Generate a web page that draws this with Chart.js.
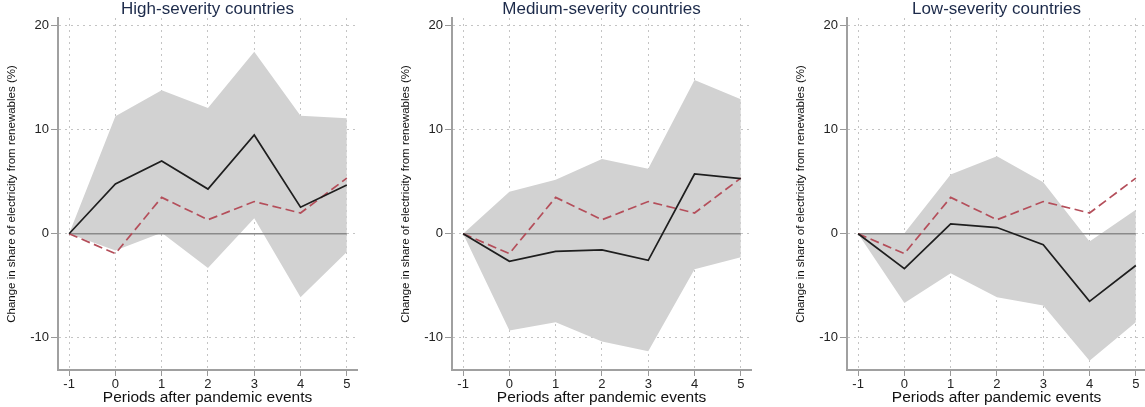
<!DOCTYPE html>
<html lang="en">
<head>
    <meta charset="UTF-8">
    <title>Renewables share after pandemic events</title>
    <script src="https://cdn.jsdelivr.net/npm/chart.js"></script>
    <style>
        html, body { margin: 0; padding: 0; background: #fff; overflow: hidden; }
        body { width: 1145px; height: 407px; position: relative; }
        .panel { position: absolute; top: 0; width: 360px; height: 407px; }
    </style>
</head>
<body>
    <div class="panel" style="left:0px"><canvas id="highChart"></canvas></div>
    <div class="panel" style="left:394px"><canvas id="mediumChart"></canvas></div>
    <div class="panel" style="left:789px"><canvas id="lowChart"></canvas></div>

    <script>
        // values
        const periods = [-1, 0, 1, 2, 3, 4, 5];
        const yTicks = [-10, 0, 10, 20];
        const zeroLine = [0, 0, 0, 0, 0, 0, 0];
        const reference = [0, -1.9, 3.5, 1.35, 3.1, 2.0, 5.35];

        const highEstimate = [0, 4.8, 7.0, 4.3, 9.5, 2.55, 4.7];
        const highUpper = [0, 11.3, 13.8, 12.1, 17.5, 11.35, 11.1];
        const highLower = [0, -1.6, 0.1, -3.3, 1.5, -6.1, -1.75];

        const mediumEstimate = [0, -2.65, -1.7, -1.55, -2.55, 5.75, 5.3];
        const mediumUpper = [0, 4.05, 5.2, 7.2, 6.25, 14.8, 12.95];
        const mediumLower = [0, -9.3, -8.5, -10.35, -11.3, -3.4, -2.25];

        const lowEstimate = [0, -3.35, 0.95, 0.6, -1.05, -6.5, -3.05];
        const lowUpper = [0, 0.05, 5.7, 7.45, 4.95, -0.75, 2.3];
        const lowLower = [0, -6.65, -3.8, -6.1, -6.9, -12.2, -8.5];

        const font = "'Liberation Sans', Arial, sans-serif";

        function pts(values) {
            return periods.map((p, i) => ({x: p, y: values[i]}));
        }

        function makeChart(id, title, estimate, upper, lower) {
            const ctx = document.getElementById(id).getContext('2d');
            return new Chart(ctx, {
                type: 'line',
                data: {
                    datasets: [
                        { data: pts(estimate), borderColor: '#1e1e1e', borderWidth: 1.7, pointRadius: 0, fill: false, order: 0 },
                        { data: pts(reference), borderColor: '#b44e5a', borderWidth: 1.7, borderDash: [9, 4.5], pointRadius: 0, fill: false, order: 1 },
                        { data: pts(zeroLine), borderColor: '#8a8a8a', borderWidth: 1.5, pointRadius: 0, fill: false, order: 2 },
                        { data: pts(upper), borderWidth: 0, borderColor: 'rgba(0,0,0,0)', backgroundColor: '#d2d2d2', pointRadius: 0, fill: '+1', order: 4 },
                        { data: pts(lower), borderWidth: 0, borderColor: 'rgba(0,0,0,0)', pointRadius: 0, fill: false, order: 3 }
                    ]
                },
                options: {
                    responsive: false,
                    animation: false,
                    layout: { padding: { top: 0, right: 3, left: 0, bottom: 0 } },
                    plugins: {
                        legend: { display: false },
                        tooltip: { enabled: false },
                        title: {
                            display: true, text: title, color: '#1c2a4a', fullSize: false,
                            font: { family: font, size: 17, weight: 'normal', lineHeight: 1.06 },
                            padding: { top: 0, bottom: 0 }
                        }
                    },
                    scales: {
                        x: {
                            type: 'linear', min: -1.24, max: 5.22,
                            afterBuildTicks: axis => { axis.ticks = periods.map(v => ({value: v})); },
                            afterFit: axis => { axis.height = 37; },
                            grid: { color: '#c4c4c4', lineWidth: 1, tickColor: '#999', tickBorderDash: [], tickLength: 6 },
                            border: { color: '#a0a0a0', width: 2, dash: [2, 4] },
                            ticks: { color: '#222', font: { family: font, size: 13 }, padding: 1, maxRotation: 0 },
                            title: { display: true, text: 'Periods after pandemic events', color: '#111', font: { family: font, size: 15.5, lineHeight: 1.1 }, padding: { top: 0, bottom: 1 } }
                        },
                        y: {
                            min: -13.1, max: 20.75,
                            afterBuildTicks: axis => { axis.ticks = yTicks.map(v => ({value: v})); },
                            afterFit: axis => { axis.width = 58; },
                            grid: { color: '#c4c4c4', lineWidth: 1, tickColor: '#999', tickBorderDash: [], tickLength: 7 },
                            border: { color: '#a0a0a0', width: 2, dash: [2, 4] },
                            ticks: { color: '#222', font: { family: font, size: 13 }, padding: 2 },
                            title: { display: true, text: 'Change in share of electricity from renewables (%)', color: '#111', font: { family: font, size: 11.5 }, padding: { top: 5, bottom: 0 } }
                        }
                    }
                }
            });
        }

        function sizeCanvas(id) {
            const c = document.getElementById(id);
            c.width = 360; c.height = 407;
            c.style.width = '360px'; c.style.height = '407px';
        }

        ['highChart', 'mediumChart', 'lowChart'].forEach(sizeCanvas);
        makeChart('highChart', 'High-severity countries', highEstimate, highUpper, highLower);
        makeChart('mediumChart', 'Medium-severity countries', mediumEstimate, mediumUpper, mediumLower);
        makeChart('lowChart', 'Low-severity countries', lowEstimate, lowUpper, lowLower);
    </script>
</body>
</html>
